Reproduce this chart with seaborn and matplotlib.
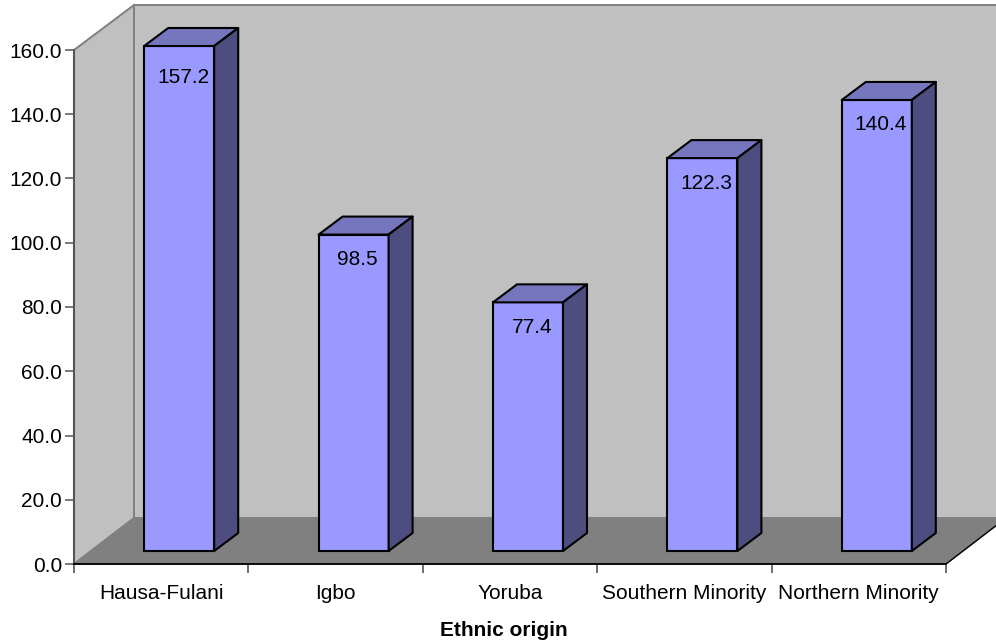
import matplotlib
matplotlib.use("Agg")
import matplotlib.pyplot as plt
from matplotlib.patches import Polygon
from matplotlib.transforms import Affine2D
import seaborn as sns

sns.set_theme(style="white")
plt.rcParams["font.family"] = ["Liberation Sans", "DejaVu Sans"]

# Values by ethnic origin
origins = ["Hausa-Fulani", "Igbo", "Yoruba", "Southern Minority", "Northern Minority"]
rates = [157.2, 98.5, 77.4, 122.3, 140.4]
y_ticks = [0, 20, 40, 60, 80, 100, 120, 140, 160]
axis_title = "Ethnic origin"

W, H = 996, 642
DPI = 100
FONT = 15

FRONT = "#9999FF"
TOP = "#7676BF"
SIDE = "#4D4D80"
WALL = "#C0C0C0"
FLOOR = "#808080"
WALL_EDGE = "#808080"
AXIS_GRAY = "#555555"

# Pseudo-3D offsets in pixels
ROOM_DX, ROOM_DY = 60, 46
BAR_DX, BAR_DY = 18, 13
BAR_DEPTH_X, BAR_DEPTH_Y = 24, 18

fig = plt.figure(figsize=(W / DPI, H / DPI), dpi=DPI, facecolor="white")
ax = fig.add_axes([74 / W, (H - 564) / H, 872 / W, 514 / H])

sns.barplot(
    x=origins, y=rates, ax=ax, color=FRONT, saturation=1, width=0.4014,
    edgecolor="black", linewidth=1.5, zorder=5,
)
ax.set_xlim(-0.5, 4.5)
ax.set_ylim(0, 160)
ax.patch.set_visible(False)


def px_point(x, y, dx=0, dy=0):
    """Display position of a data point, shifted by a pixel offset."""
    px, py = ax.transData.transform((x, y))
    return px + dx, py + dy


def face(points, **style):
    """Add a polygon given in display pixels, outside of axes clipping."""
    poly = Polygon(points, closed=True, clip_on=False, **style)
    fig.add_artist(poly)
    poly.set_transform(Affine2D())
    return poly


x0, x1 = ax.get_xlim()

# Room: left wall, back wall and floor
bl = px_point(x0, 0)
tl = px_point(x0, 160)
br = px_point(x1, 0)
bl_b = px_point(x0, 0, ROOM_DX, ROOM_DY)
tl_b = px_point(x0, 160, ROOM_DX, ROOM_DY - 1)
br_b = px_point(x1, 0, ROOM_DX, ROOM_DY)
tr_b = px_point(x1, 160, ROOM_DX, ROOM_DY - 1)

room_style = dict(edgecolor=WALL_EDGE, linewidth=1.4, zorder=-3)
face([bl, tl, tl_b, bl_b], facecolor=WALL, **room_style)
face([bl_b, tl_b, tr_b, br_b], facecolor=WALL, **room_style)
face([bl, bl_b, br_b, br], facecolor=FLOOR, edgecolor=FLOOR, linewidth=1.0, zorder=-2)
fig.add_artist(plt.Line2D([br[0], br_b[0]], [br[1], br_b[1]], color="black", lw=1.0,
                          transform=Affine2D(), zorder=-1))

# Shift the front faces to their floor position and extrude them
shift = Affine2D().translate(BAR_DX, BAR_DY)
for bar, value in zip(ax.patches, rates):
    left = bar.get_x()
    right = left + bar.get_width()
    bar.set_transform(bar.get_data_transform() + shift)
    bar.set_clip_on(False)
    bar.set_joinstyle("miter")

    ftl = px_point(left, value, BAR_DX, BAR_DY)
    ftr = px_point(right, value, BAR_DX, BAR_DY)
    fbr = px_point(right, 0, BAR_DX, BAR_DY)
    back = lambda p: (p[0] + BAR_DEPTH_X, p[1] + BAR_DEPTH_Y)
    edge = dict(edgecolor="black", linewidth=1.5, joinstyle="round")
    face([ftl, ftr, back(ftr), back(ftl)], facecolor=TOP, zorder=1, **edge)
    face([ftr, fbr, back(fbr), back(ftr)], facecolor=SIDE, zorder=1, **edge)

# Value labels sit just under the bar top, held below the top of the scale
for i, value in enumerate(rates):
    ax.annotate(
        f"{value:.1f}", (i, min(value, 155.3)), xytext=(BAR_DX + 4, BAR_DY - 25),
        xycoords="data", textcoords="offset pixels",
        ha="center", va="center", fontsize=FONT, color="black", zorder=10,
        annotation_clip=False,
    )

# Axes furniture
sns.despine(ax=ax, top=True, right=True)
ax.spines["left"].set_color(AXIS_GRAY)
ax.spines["left"].set_linewidth(1.5)
ax.spines["bottom"].set_color("black")
ax.spines["bottom"].set_linewidth(1.3)
ax.set_yticks(y_ticks, [f"{t:.1f}" for t in y_ticks])
ax.tick_params(axis="y", left=True, length=6.5, width=1.1, color=AXIS_GRAY, pad=2,
               labelsize=FONT, labelcolor="black")
ax.set_xticks(range(len(origins)), origins)
ax.set_xticks([i - 0.5 for i in range(len(origins) + 1)], minor=True)
ax.tick_params(axis="x", which="major", length=0, pad=14.5, labelsize=FONT, labelcolor="black")
ax.tick_params(axis="x", which="minor", bottom=True, length=6.5, width=1.2, color=AXIS_GRAY)
ax.set_xlabel(axis_title, fontsize=FONT, fontweight="bold", color="black")
ax.xaxis.set_label_coords((504 - 74) / 872, -(631 - 564) / 514, transform=ax.transAxes)
ax.xaxis.label.set_verticalalignment("center")

fig.savefig("out.png", dpi=DPI, facecolor="white")
